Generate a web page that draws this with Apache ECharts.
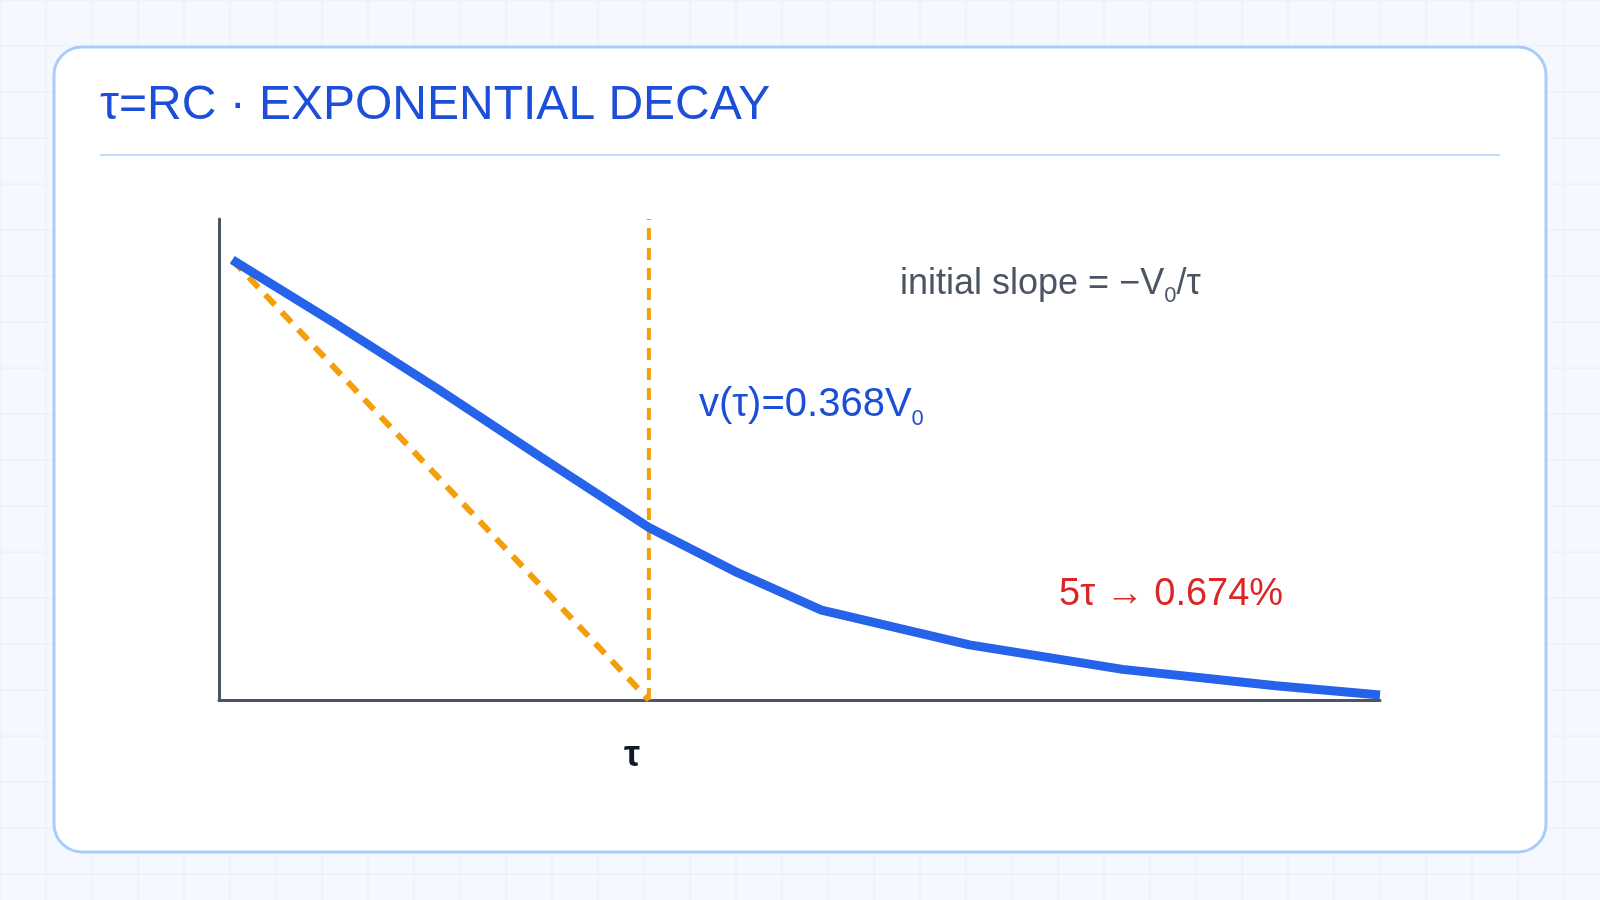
<!DOCTYPE html>
<html><head><meta charset="utf-8">
<script src="https://cdn.jsdelivr.net/npm/echarts@6/dist/echarts.min.js"></script>
<style>html,body{margin:0;padding:0;background:#f5f9ff}#c{width:1600px;height:900px}</style>
</head><body><div id="c"></div>
<script>
const curveX = [13,115,215,315,421,505,590,735,885,1035,1137];
const curveY = [431,368,304,238,169,126,88,54,30,14,5];
const tangentX = [13,421];
const tangentY = [431,0];
const tauX = 421;
const yMax = 471, xMax = 1137;
const title = 'τ=RC · EXPONENTIAL DECAY';

const F = '"Liberation Sans", Arial, sans-serif';
const chart = echarts.init(document.getElementById('c'));
const g = [];
for (let x = 0; x <= 1600; x += 46) g.push({type:'line',z:-10,shape:{x1:x,y1:0,x2:x,y2:900},style:{stroke:'#e6eefb',lineWidth:1}});
for (let y = 0; y <= 900; y += 46) g.push({type:'line',z:-10,shape:{x1:0,y1:y,x2:1600,y2:y},style:{stroke:'#e6eefb',lineWidth:1}});
g.push({type:'rect',z:-5,shape:{x:54,y:47,width:1492,height:805,r:28},style:{fill:'#ffffff',stroke:'#a9cdfb',lineWidth:3}});
g.push({type:'text',left:100,top:82,style:{text:title,font:'48px '+F,fill:'#1d4ed8'}});
g.push({type:'line',shape:{x1:100,y1:155,x2:1500,y2:155},style:{stroke:'#bfdbfe',lineWidth:2}});
g.push({type:'text',left:624,top:738,style:{text:'τ',font:'bold 36px '+F,fill:'#111827'}});
g.push({type:'text',left:900,top:266,style:{rich:{a:{font:'36px '+F,fill:'#4b5563'},s:{font:'22px '+F,fill:'#4b5563',padding:[24,0,0,0]}},text:'{a|initial slope = −V}{s|0}{a|/τ}'}});
g.push({type:'text',left:699,top:385,style:{rich:{a:{font:'40px '+F,fill:'#1d4ed8'},s:{font:'22px '+F,fill:'#1d4ed8',padding:[28,0,0,0]}},text:'{a|v(τ)=0.368V}{s|0}'}});
g.push({type:'text',left:1059,top:576,style:{text:'5τ → 0.674%',font:'38px '+F,fill:'#dc2626'}});

chart.setOption({
  animation:false,
  graphic:g,
  grid:{left:219,right:220,top:219,bottom:200},
  xAxis:{type:'value',min:0,max:xMax,axisLine:{show:true,onZero:false,lineStyle:{color:'#4b5563',width:3}},axisTick:{show:false},axisLabel:{show:false},splitLine:{show:false}},
  yAxis:{type:'value',min:0,max:yMax,axisLine:{show:true,onZero:false,lineStyle:{color:'#4b5563',width:3}},axisTick:{show:false},axisLabel:{show:false},splitLine:{show:false}},
  series:[
    {type:'line',data:tangentX.map((x,i)=>[x,tangentY[i]]),symbol:'none',lineStyle:{color:'#f59e0b',width:6,type:[14,10]}},
    {type:'line',data:[[tauX,0],[tauX,yMax]],symbol:'none',lineStyle:{color:'#f59e0b',width:4,type:[12,8]}},
    {type:'line',data:curveX.map((x,i)=>[x,curveY[i]]),symbol:'none',smooth:false,lineStyle:{color:'#2563eb',width:9}}
  ]
});
</script></body></html>
